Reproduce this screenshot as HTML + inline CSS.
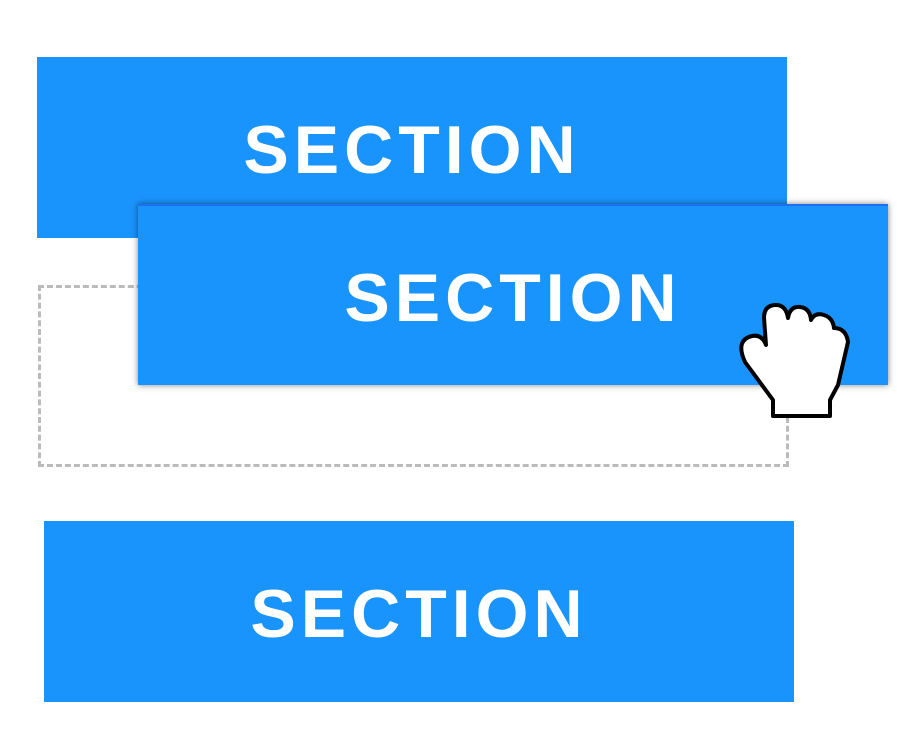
<!DOCTYPE html>
<html><head><style>
body{margin:0;width:924px;height:746px;background:#fff;position:relative;overflow:hidden;font-family:"Liberation Sans",sans-serif}
.b{position:absolute;width:750px;height:181px;background:#1a94fd;color:#fff;font-size:68px;font-weight:bold;letter-spacing:5px;display:flex;align-items:center;justify-content:center;box-sizing:border-box;padding-top:4px}
</style></head><body>
<div style="position:absolute;left:38px;top:285px;width:745px;height:176px;border:3px dashed #bbb"></div>
<div class="b" style="left:37px;top:57px">SECTION</div>
<div class="b" style="left:138px;top:204px;box-shadow:0 0 6px rgba(0,0,0,.5);border-top:2px solid #1f6ff0">SECTION</div>
<div class="b" style="left:44px;top:521px">SECTION</div>
<svg style="position:absolute;left:0;top:0" width="924" height="746">
<path d="M773,416 L773,400 L745,362 Q735,340 752,336 Q762,334 766,345 L764,318 Q764,305 776,305 Q786,305 788,318 Q790,306 800,307 Q810,308 811,320 Q815,312 824,315 Q833,318 834,328 Q846,328 848,342 L838,385 L830,400 L830,416 Z" fill="#fff" stroke="#000" stroke-width="4" stroke-linejoin="round"/>
</svg>
</body></html>
